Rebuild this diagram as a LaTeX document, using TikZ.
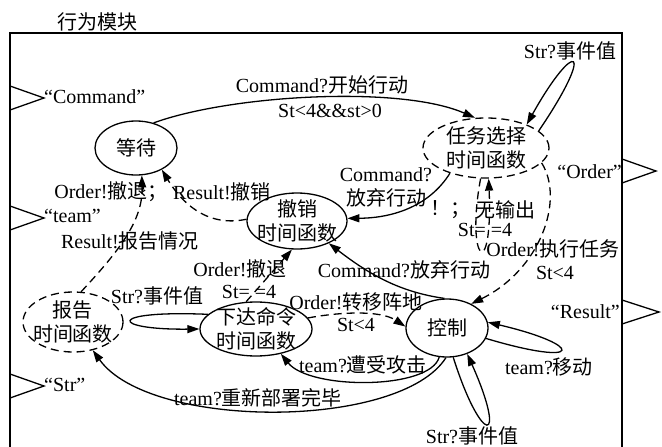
\documentclass[tikz,border=0pt]{standalone}
\usepackage{fontspec}
\setmainfont{Liberation Serif}
\newfontfamily\cjk{Noto Sans CJK SC}
\newcommand\zhtxt[1]{{\cjk #1}}
\usetikzlibrary{shapes.geometric,arrows.meta}
\begin{document}
\begin{tikzpicture}[x=1pt,y=-1pt,
  every node/.style={font=\fontsize{20}{24}\selectfont, inner sep=0pt},
  ln/.style={line width=1.3pt},
  dsh/.style={dash pattern=on 8pt off 5pt},
  st/.style={ellipse, draw, ln, inner xsep=-12pt, inner ysep=-12pt, align=center},
  arr/.style={ln, -{Triangle[length=12pt,width=8pt]}},
  lbl/.style={align=center},
]
\useasboundingbox (0,0) rectangle (662,447);
% frame
\draw[line width=1.5pt] (10,447) -- (10,33) -- (622,33) -- (622,447);
\node (title) at (97,22) {\zhtxt{行为模块}};
% ports
\draw[ln] (10,86) -- (44,98) -- (10,110);
\draw[ln] (10,206) -- (44,218) -- (10,230);
\draw[ln] (10,374) -- (44,386) -- (10,398);
\draw[ln] (622,159) -- (656,171) -- (622,183);
\draw[ln] (622,300) -- (659,312) -- (622,324);
\node[anchor=west] (pcmd) at (44,97) {“Command”};
\node[anchor=west] (pteam) at (44,216) {“team”};
\node[anchor=west] (pstr) at (44,385) {“Str”};
\node[anchor=east] (porder) at (622,172) {“Order”};
\node[anchor=east] (presult) at (620,312) {“Result”};
% states
\node[st, minimum width=82pt, minimum height=54pt] (wait) at (136,148) {\zhtxt{等待}};
\node[st, dsh, minimum width=126pt, minimum height=60pt] (task) at (486,148) {\zhtxt{任务选择}\\\zhtxt{时间函数}};
\node[st, minimum width=100pt, minimum height=56pt] (cancel) at (297,221) {\zhtxt{撤销}\\\zhtxt{时间函数}};
\node[st, dsh, minimum width=100pt, minimum height=60pt] (report) at (73,322) {\zhtxt{报告}\\\zhtxt{时间函数}};
\node[st, minimum width=112pt, minimum height=54pt] (cmd) at (256,329) {\zhtxt{下达命令}\\\zhtxt{时间函数}};
\node[st, minimum width=82pt, minimum height=58pt] (ctrl) at (447,328) {\zhtxt{控制}};
% connectors
\draw[arr] (wait.55) .. controls (230,95) and (400,85) .. (task.110);
\draw[arr] (task.18) .. controls (597,45) and (575,38) .. (task.30);
\draw[arr] (task.215) .. controls (430,205) and (395,218) .. (cancel.3);
\draw[arr,dsh] (cancel.178) .. controls (205,228) and (180,200) .. (wait.-40);
\draw[arr,dsh] (report.75) .. controls (120,250) and (143,220) .. (wait.-78);
\draw[arr] (cmd.163) .. controls (105,310) and (110,330) .. (cmd.180);
\draw[arr] (ctrl.95) .. controls (400,292) and (370,275) .. (cancel.-35);
\draw[arr,dsh] (cmd.110) -- (cancel.-100);
\draw[arr,dsh] (cmd.12) .. controls (340,312) and (380,310) .. (ctrl.178);
\draw[arr] (ctrl.-105) .. controls (430,390) and (310,390) .. (cmd.-45);
\draw[arr] (ctrl.-92) .. controls (400,430) and (150,430) .. (report.-55);
\draw[arr] (ctrl.-15) .. controls (585,368) and (585,345) .. (ctrl.8);
\draw[arr] (ctrl.-78) .. controls (482,448) and (508,445) .. (ctrl.-52);
\draw[arr,dsh] (task.-100) .. controls (465,262) and (493,285) .. (task.-85);
\draw[arr,dsh] (task.-15) .. controls (565,200) and (540,270) .. (ctrl.45);
% labels
\node (l1) at (322,85) {Command?\zhtxt{开始行动}};
\node (l2) at (330,111) {St<4\&\&st>0};
\node (l3) at (570,51) {Str?\zhtxt{事件值}};
\node[lbl] (l4) at (386,187) {Command?\\\zhtxt{放弃行动}};
\node (l5) at (111,192) {Order!\zhtxt{撤退；}};
\node (l6) at (222,192) {Result!\zhtxt{撤销}};
\node (l7) at (130,241) {Result!\zhtxt{报告情况}};
\node (l8) at (157,296) {Str?\zhtxt{事件值}};
\node (l9) at (240,269) {Order!\zhtxt{撤退}};
\node (l10) at (249,292) {St= =4};
\node (l11) at (404,270) {Command?\zhtxt{放弃行动}};
\node (l12) at (356,302) {Order!\zhtxt{转移阵地}};
\node (l13) at (356,325) {St<4};
\node (l14) at (450,210) {\zhtxt{！；}};
\node (l15) at (505,210) {\zhtxt{无输出}};
\node (l16) at (485,230) {St= =4};
\node (l17) at (553,249) {Order!\zhtxt{执行任务}};
\node (l18) at (555,273) {St<4};
\node (l19) at (363,365) {team?\zhtxt{遭受攻击}};
\node (l20) at (258,398) {team?\zhtxt{重新部署完毕}};
\node (l21) at (549,367) {team?\zhtxt{移动}};
\node (l22) at (472,436) {Str?\zhtxt{事件值}};
\end{tikzpicture}
\end{document}
